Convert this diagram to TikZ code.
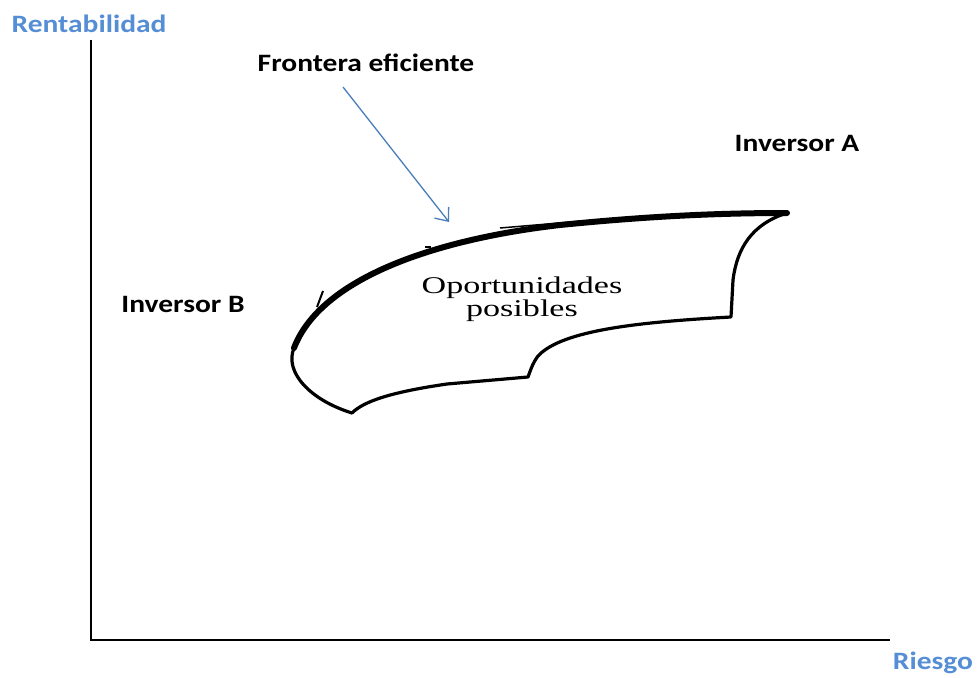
\documentclass[tikz,border=0pt]{standalone}
\usepackage{fontspec}
\setmainfont{Carlito}
\newfontfamily\serifface{Liberation Serif}
\usetikzlibrary{arrows.meta}
\definecolor{axisblue}{HTML}{558ED5}
\definecolor{arrowblue}{HTML}{4A7EBB}
\tikzset{
  axislabel/.style={font=\fontsize{25}{28}\selectfont\bfseries, text=axisblue, inner sep=0pt, xscale=1.18},
  blacklabel/.style={font=\fontsize{25}{28}\selectfont\bfseries, text=black, inner sep=0pt, xscale=1.18},
  axisline/.style={line width=1.6pt, black},
  outline/.style={line width=3.2pt, black, line join=round, line cap=round},
  frontier/.style={line width=6pt, black, line cap=round},
  pointer/.style={arrowblue, line width=1.3pt, -{Straight Barb[length=11pt,width=18pt,line width=1.3pt]}}
}
\begin{document}
\begin{tikzpicture}[x=1pt,y=-1pt]
\useasboundingbox (0,0) rectangle (979,677);
% axes
\coordinate (top) at (91,40);
\coordinate (orig) at (91,640);
\coordinate (right) at (890,640);
\draw[axisline] (top) -- (orig) -- (right);
\node[axislabel] (rent) at (89,24) {Rentabilidad};
\node[axislabel] (riesgo) at (933,663) {Riesgo};
% labels
\node[blacklabel] (front) at (366,63) {Frontera eficiente};
\node[blacklabel] (invA) at (797,143) {Inversor A};
\node[blacklabel] (invB) at (183,304) {Inversor B};
% opportunity set outline
\coordinate (cusp) at (352,413);
\coordinate (fl) at (294,348);
\coordinate (fr) at (787,213);
\draw[outline] (cusp) .. controls (310,400) and (284,372) .. (fl);
\draw[outline] (fr) .. controls (752,224) and (737,248) .. (733,280) -- (731,317)
  .. controls (640,322) and (562,330) .. (538,356)
  .. controls (532,364) and (530,372) .. (528,377)
  -- (447,384) .. controls (392,392) and (364,401) .. (cusp);
% efficient frontier
\draw[frontier] (fl) .. controls (320,280) and (430,240) .. (560,225)
  .. controls (650,216) and (720,213) .. (fr);
% small remnant marks
\draw[line width=1.5pt] (500,228) -- (583,221);
\draw[line width=2pt] (317,307) -- (323,291);
\draw[line width=2pt] (425,247) -- (431,247);
% text inside
\node[font=\serifface\fontsize{24}{20}\selectfont, align=center, inner sep=0pt, xscale=1.42] (opp) at (522,299) {Oportunidades\\posibles};
% arrow
\coordinate (arrowend) at (449,222);
\draw[pointer] (343,87) -- (arrowend);
\end{tikzpicture}
\end{document}
